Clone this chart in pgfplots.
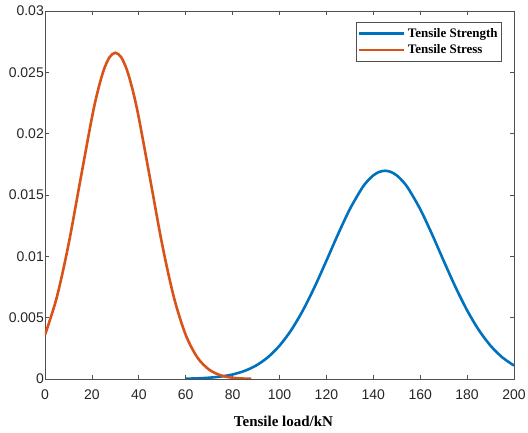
\documentclass[border=0pt]{standalone}
\usepackage{pgfplots}
\pgfplotsset{compat=1.18}
\usepackage{fontspec}
\setmainfont{Liberation Serif}
\newfontfamily\tickfont{Liberation Sans}
\definecolor{mblue}{RGB}{0,114,189}
\definecolor{morange}{RGB}{217,83,25}
\definecolor{axgray}{RGB}{80,80,80}
\definecolor{txtgray}{RGB}{38,38,38}
\begin{document}
\begin{tikzpicture}
\useasboundingbox (-45pt,-54pt) rectangle (483pt,379pt);
\begin{axis}[
  at={(0,0)}, anchor=south west,
  scale only axis, width=469pt, height=368pt,
  xmin=0, xmax=200, ymin=0, ymax=0.03,
  xtick={0,20,...,200},
  ytick={0,0.005,0.01,0.015,0.02,0.025,0.03},
  yticklabels={0,0.005,0.01,0.015,0.02,0.025,0.03},
  tick align=inside,
  major tick length=4pt,
  axis line style={axgray, line width=0.6pt},
  tick style={axgray, line width=0.6pt},
  ticklabel style={font=\tickfont\fontsize{14}{16}\selectfont, text=txtgray},
  xticklabel style={yshift=-7pt},
  yticklabel style={inner xsep=1pt},
  /pgf/number format/assume math mode=true,
  scaled y ticks=false,
  xlabel={\textbf{Tensile load/kN}},
  xlabel style={font=\fontsize{15}{17}\selectfont, at={(axis description cs:0.5,0)}, anchor=base, yshift=-48pt, xshift=4pt},
  legend style={at={(rel axis cs:1,1)}, anchor=north east, xshift=-12pt, yshift=-11pt,
    font=\bfseries\fontsize{13}{15}\selectfont, draw=axgray, line width=0.6pt,
    inner xsep=2pt, inner ysep=3pt, row sep=0pt,
    nodes={inner ysep=3pt, inner xsep=2pt}},
  legend cell align=left,
  legend image code/.code={\draw[#1, line width=2.6pt] (0pt,0pt) -- (45pt,0pt);},
]
\addplot[mblue, line width=2.6pt, smooth] coordinates {
(60,0.0000245) (65,0.0000516) (70,0.000104) (75,0.000201) (80,0.000370)
(85,0.000652) (90,0.001097) (95,0.001765) (100,0.002714) (105,0.003988)
(110,0.005600) (115,0.007516) (120,0.009640) (125,0.011819) (130,0.013848)
(135,0.015507) (137.5,0.016134) (140,0.016597) (142.5,0.016881) (145,0.016977)
(147.5,0.016881) (150,0.016597) (152.5,0.016134) (155,0.015507)
(160,0.013848) (165,0.011819) (170,0.009640) (175,0.007516) (180,0.005600)
(185,0.003988) (190,0.002714) (195,0.001765) (200,0.001097)
};
\addlegendentry{Tensile Strength}
\addplot[morange, line width=2.6pt, smooth] coordinates {
(0,0.003599) (5,0.006632) (10,0.010934) (15,0.016131) (20,0.021297)
(22.5,0.023471) (25,0.025159) (27.5,0.026229) (30,0.026596) (32.5,0.026229)
(35,0.025159) (37.5,0.023471) (40,0.021297) (45,0.016131)
(50,0.010934) (55,0.006632) (60,0.003599) (65,0.001748) (70,0.000760)
(75,0.000295) (80,0.000103) (85,0.000032) (88,0.0000151)
};
\addlegendentry{Tensile Stress}
\end{axis}
\end{tikzpicture}
\end{document}
